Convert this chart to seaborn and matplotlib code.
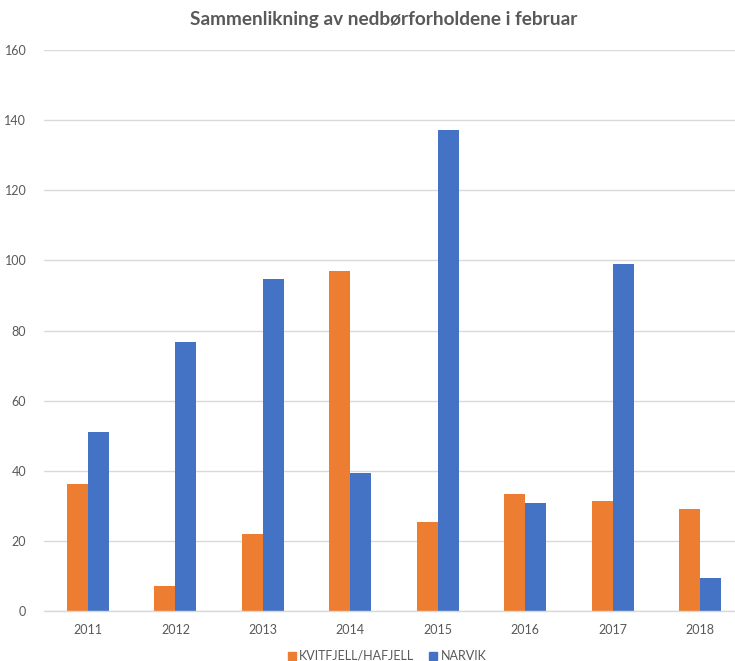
import matplotlib
matplotlib.use("Agg")
import matplotlib.pyplot as plt
import seaborn as sns
import pandas as pd
from matplotlib.lines import Line2D

years = ["2011", "2012", "2013", "2014", "2015", "2016", "2017", "2018"]
kvitfjell = [36.3, 7.1, 22.1, 97.0, 25.5, 33.5, 31.4, 29.2]
narvik = [51.1, 76.6, 94.7, 39.4, 137.3, 30.8, 98.9, 9.4]
series = ["KVITFJELL/HAFJELL", "NARVIK"]
colors = ["#ED7D31", "#4472C4"]
title = "Sammenlikning av nedbørforholdene i februar"
yticks = [0, 20, 40, 60, 80, 100, 120, 140, 160]

df = pd.DataFrame({
    "year": years * 2,
    "value": kvitfjell + narvik,
    "series": [series[0]] * len(years) + [series[1]] * len(years),
})

sns.set_theme(style="white")
plt.rcParams["font.family"] = ["Lato", "DejaVu Sans"]
text_color = "#595959"

fig = plt.figure(figsize=(7.35, 6.61), dpi=100)
ax = fig.add_axes([44.3 / 735, 1 - 611 / 661, 699.4 / 735, 561 / 661])

sns.barplot(data=df, x="year", y="value", hue="series", hue_order=series,
            palette=colors, width=0.48, gap=0, saturation=1,
            linewidth=0, ax=ax, legend=False)

ax.set_ylim(0, 160)
ax.set_xlim(-0.5, len(years) - 0.5)
ax.set_yticks(yticks)
ax.set_yticklabels([str(t) for t in yticks])
ax.yaxis.grid(True, color="#D9D9D9", linewidth=1)
ax.set_axisbelow(True)
for side in ["top", "right", "left"]:
    ax.spines[side].set_visible(False)
ax.spines["bottom"].set_color("#D9D9D9")
ax.spines["bottom"].set_linewidth(1)
ax.tick_params(axis="both", length=0, labelsize=9, colors=text_color)
ax.tick_params(axis="x", pad=9)
ax.tick_params(axis="y", pad=13)
ax.set_xlabel("")
ax.set_ylabel("")

fig.text(0.522, 1 - 20 / 661, title, ha="center", va="center",
         fontsize=13.7, fontweight="bold", color=text_color)

handles = [Line2D([], [], marker="s", linestyle="none", markersize=6,
                  markerfacecolor=c, markeredgecolor=c) for c in colors]
fig.legend(handles, series, loc="center", bbox_to_anchor=(0.525, 1 - 656 / 661),
           ncol=2, frameon=False, fontsize=9, labelcolor=text_color,
           handletextpad=0.1, columnspacing=1.0, handlelength=1.0)

fig.savefig("out.png", dpi=100)
